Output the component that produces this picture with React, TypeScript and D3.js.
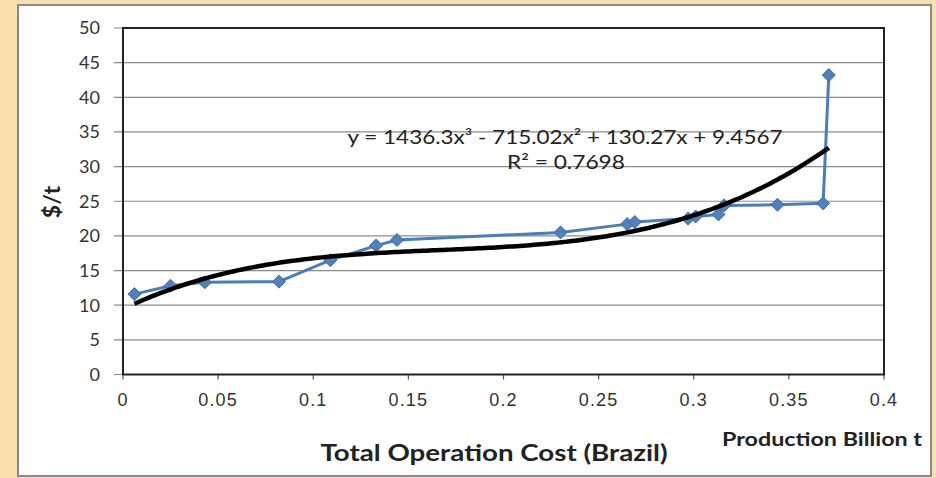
import React from "react";
import * as d3 from "d3";

const prodX = [0.006, 0.025, 0.043, 0.082, 0.109, 0.133, 0.144, 0.23, 0.265, 0.269, 0.297, 0.301, 0.313, 0.316, 0.344, 0.368, 0.371];
const costY = [11.6, 12.8, 13.3, 13.4, 16.5, 18.6, 19.4, 20.5, 21.7, 22.0, 22.5, 22.8, 23.1, 24.4, 24.5, 24.7, 43.2];
const fitCoef = [1436.3, -715.02, 130.27, 9.4567];
const xTicks = [0, 0.05, 0.1, 0.15, 0.2, 0.25, 0.3, 0.35, 0.4];
const yTicks = [0, 5, 10, 15, 20, 25, 30, 35, 40, 45, 50];
const eqText = "y = 1436.3x\u00B3 - 715.02x\u00B2 + 130.27x + 9.4567";
const r2Text = "R\u00B2 = 0.7698";
const xTitle = "Total Operation Cost (Brazil)";
const unitTitle = "Production Billion t";
const yTitle = "$/t";

export default function App() {
  const W = 936, H = 478;
  const x = d3.scaleLinear().domain([0, 0.4]).range([123, 884]);
  const y = d3.scaleLinear().domain([0, 50]).range([374.5, 28]);
  const pts = prodX.map((v, i) => [v, costY[i]] as [number, number]);
  const line = d3.line<[number, number]>().x(d => x(d[0])).y(d => y(d[1]));
  const [a, b, c, dd] = fitCoef;
  const f = (t: number) => a * t * t * t + b * t * t + c * t + dd;
  const x0 = d3.min(prodX)!, x1 = d3.max(prodX)!;
  const fitPts: [number, number][] = d3.range(0, 201).map(i => {
    const t = x0 + (x1 - x0) * i / 200;
    return [t, f(t)];
  });
  const diamond = (cx: number, cy: number, r: number) =>
    `M${cx},${cy - r}L${cx + r},${cy}L${cx},${cy + r}L${cx - r},${cy}Z`;
  return (
    <svg width={W} height={H} style={{ position: "absolute", left: 0, top: 0, display: "block" }}>
      <rect x={0} y={0} width={W} height={H} fill="#F6E1AC" />
      <rect x={18} y={5} width={913} height={471} fill="#FFFFFF" stroke="#8A8A8A" strokeWidth={2} />
      {yTicks.map(t => (
        <g key={"y" + t}>
          <line x1={114} x2={x(0.4)} y1={y(t)} y2={y(t)} stroke="#8C8C8C" strokeWidth={1.2} />
          <text x={100} y={y(t)} dy="0.35em" textAnchor="end" fontFamily="Lato, 'Open Sans', sans-serif" fontSize={18} fill="#333">{t}</text>
        </g>
      ))}
      {xTicks.map(t => (
        <g key={"x" + t}>
          <line x1={x(t)} x2={x(t)} y1={y(0)} y2={y(0) + 5} stroke="#555" strokeWidth={1.2} />
          <text x={x(t)} y={406} textAnchor="middle" fontFamily="'Liberation Sans', Arial, sans-serif" fontSize={18} letterSpacing={1.2} fill="#333">{t}</text>
        </g>
      ))}
      <rect x={x(0)} y={y(50)} width={x(0.4) - x(0)} height={y(0) - y(50)} fill="none" stroke="#222" strokeWidth={2} />
      <path d={line(pts)!} fill="none" stroke="#4A7EBB" strokeWidth={3} strokeLinejoin="round" />
      {pts.map((p, i) => (
        <path key={"m" + i} d={diamond(x(p[0]), y(p[1]), 6.5)} fill="#4F81BD" stroke="#3A6AA8" strokeWidth={1} />
      ))}
      <path d={line(fitPts)!} fill="none" stroke="#000" strokeWidth={4.5} strokeLinecap="butt" />
      <text x={565} y={144} textAnchor="middle" fontFamily="Lato, 'Open Sans', sans-serif" fontSize={19} fill="#222" textLength={435} lengthAdjust="spacingAndGlyphs">{eqText}</text>
      <text x={566} y={169} textAnchor="middle" fontFamily="Lato, 'Open Sans', sans-serif" fontSize={19} fill="#222" textLength={118} lengthAdjust="spacingAndGlyphs">{r2Text}</text>
      <text x={494} y={461} textAnchor="middle" fontFamily="Lato, 'Open Sans', sans-serif" fontWeight="bold" fontSize={23} fill="#222" textLength={347} lengthAdjust="spacingAndGlyphs">{xTitle}</text>
      <text x={822} y={446} textAnchor="middle" fontFamily="Lato, 'Open Sans', sans-serif" fontWeight="bold" fontSize={18} fill="#222" textLength={200} lengthAdjust="spacingAndGlyphs">{unitTitle}</text>
      <text transform="translate(60,202) rotate(-90)" textAnchor="middle" fontFamily="Lato, 'Open Sans', sans-serif" fontWeight="bold" fontSize={23} fill="#222">{yTitle}</text>
    </svg>
  );
}
